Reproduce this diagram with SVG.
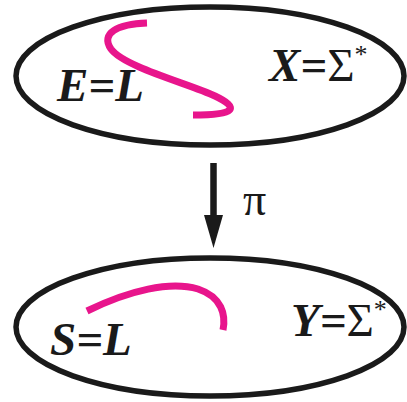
<svg xmlns="http://www.w3.org/2000/svg" width="407" height="402" viewBox="0 0 407 402">
<style>
.ell{fill:none;stroke:#1a1a1a;stroke-width:5.5}
.pink{fill:none;stroke:#e8158c;stroke-width:7}
.lbl{font-family:"Liberation Serif",serif;font-weight:bold;font-style:italic;font-size:47px;fill:#1a1a1a}
.up{font-style:normal;font-weight:normal}
.sup{font-style:normal;font-weight:normal;font-size:26px}
</style>
<g id="X">
<ellipse class="ell" cx="210" cy="76" rx="194" ry="69"/>
<path class="pink" d="M147,23 C118,24 100,33 111,49 C124,67 190,84 215,96 C240,108 236,115 193,115"/>
<text class="lbl" x="57" y="101">E=L</text>
<text class="lbl" x="269" y="81">X=<tspan class="up">Σ</tspan><tspan class="sup" dy="-18">*</tspan></text>
</g>
<g id="Y">
<ellipse class="ell" cx="210" cy="327" rx="194" ry="69"/>
<path class="pink" d="M87,311 C130,290 170,281 198,289 C222,297 226,315 223,330"/>
<text class="lbl" x="50" y="355">S=L</text>
<text class="lbl" x="291" y="336">Y=<tspan class="up">Σ</tspan><tspan class="sup" dy="-18">*</tspan></text>
</g>
<g id="connectors">
<line x1="213.5" y1="163" x2="213.5" y2="216" stroke="#1a1a1a" stroke-width="6.5"/>
<path d="M204,215 L223,215 L213.5,248 Z" fill="#1a1a1a"/>
<text x="243" y="215" font-family="Liberation Serif,serif" font-size="46" fill="#1a1a1a">π</text>
</g>
</svg>
